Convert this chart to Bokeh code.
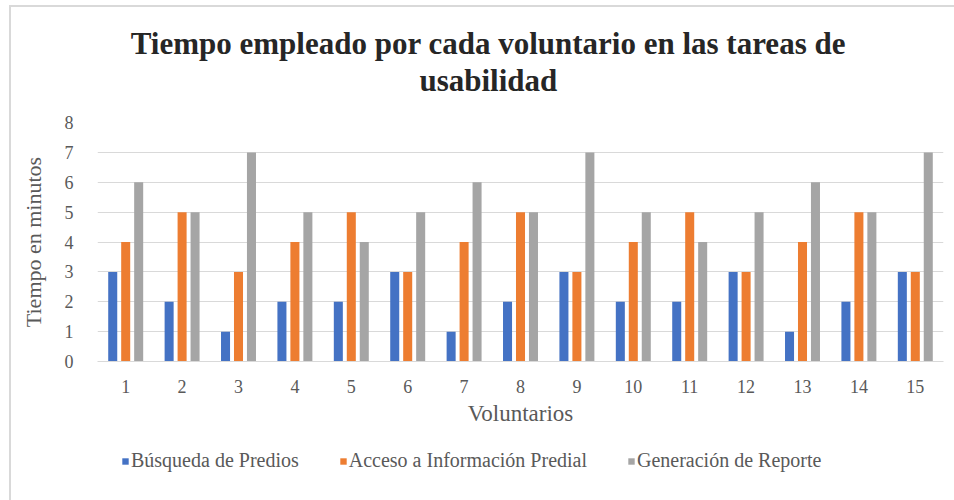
from bokeh.plotting import figure
from bokeh.layouts import column
from bokeh.models import ColumnDataSource, Legend, LegendItem, FixedTicker, Label, FactorRange
from bokeh.transform import dodge
from bokeh.embed import file_html
from bokeh.resources import INLINE

voluntarios = [str(i) for i in range(1, 16)]
busqueda = [3, 2, 1, 2, 2, 3, 1, 2, 3, 2, 2, 3, 1, 2, 3]
acceso = [4, 5, 3, 4, 5, 3, 4, 5, 3, 4, 5, 3, 4, 5, 3]
reporte = [6, 5, 7, 5, 4, 5, 6, 5, 7, 5, 4, 5, 6, 5, 7]
series_names = ["Búsqueda de Predios", "Acceso a Información Predial", "Generación de Reporte"]
title_lines = ["Tiempo empleado por cada voluntario en las tareas de", "usabilidad"]
y_ticks = [0, 1, 2, 3, 4, 5, 6, 7, 8]

colors = ["#4472C4", "#ED7D31", "#A5A5A5"]
FONT = "Liberation Serif"
TXT = "#595959"
W = 954

src = ColumnDataSource(dict(x=voluntarios, a=busqueda, b=acceso, c=reporte))
cols = ["a", "b", "c"]


def blank(height, xr, yr):
    f = figure(width=W, height=height, output_backend="svg", toolbar_location=None,
               x_axis_type=None, y_axis_type=None, min_border=0, x_range=xr, y_range=yr)
    f.outline_line_color = None
    f.grid.visible = False
    f.border_fill_color = None
    f.background_fill_color = None
    return f


# ---- title strip ----
tf = blank(100, (0, 1), (0, 100))
for txt, yy in zip(title_lines, [57, 20]):
    tf.add_layout(Label(x=0.462, y=yy, text=txt, text_align="center", text_baseline="middle",
                        text_font=FONT, text_font_size="31px", text_font_style="bold",
                        text_color="#262626"))

# ---- chart ----
p = figure(x_range=voluntarios, y_range=(0, 8), width=W, height=340,
           output_backend="svg", toolbar_location=None,
           min_border_left=97, min_border_right=11, min_border_top=22, min_border_bottom=79)
p.title.visible = False
p.border_fill_color = None
p.background_fill_color = None

for col, off, c in zip(cols, [-0.23, 0.0, 0.23], colors):
    p.vbar(x=dodge("x", off, range=p.x_range), top=col, width=0.16, source=src,
           fill_color=c, line_color=None)

p.outline_line_color = None
p.xgrid.grid_line_color = None
p.ygrid.grid_line_color = "#d9d9d9"
p.ygrid.grid_line_width = 1
p.yaxis.ticker = FixedTicker(ticks=y_ticks)

for ax in (p.xaxis[0], p.yaxis[0]):
    ax.major_tick_line_color = None
    ax.minor_tick_line_color = None
    ax.major_label_text_font = FONT
    ax.major_label_text_font_size = "18px"
    ax.major_label_text_color = TXT
    ax.axis_label_text_font = FONT
    ax.axis_label_text_font_style = "normal"
    ax.axis_label_text_color = TXT

p.xaxis.axis_label_text_font_size = "23px"
p.yaxis.axis_label_text_font_size = "22px"
p.yaxis.axis_line_color = None
p.xaxis.axis_line_color = "#d9d9d9"
p.yaxis.major_label_standoff = 18
p.xaxis.major_label_standoff = 12
p.xaxis.axis_label = "Voluntarios"
p.yaxis.axis_label = "Tiempo en minutos"
p.xaxis.axis_label_standoff = 5
p.yaxis.axis_label_standoff = 16

# ---- legend strip (zero-width bars, only the legend shows) ----
lg = blank(60, FactorRange(factors=voluntarios), (-2, -1))
rs = []
for col, c in zip(cols, colors):
    rs.append(lg.vbar(x="x", top=col, width=0, source=src, fill_color=c, line_color=None))

legend = Legend(items=[LegendItem(label=n, renderers=[r]) for n, r in zip(series_names, rs)],
                orientation="horizontal", location=(24, 28))
legend.label_text_font = FONT
legend.label_text_font_size = "20px"
legend.label_text_color = TXT
legend.glyph_width = 8
legend.glyph_height = 8
legend.label_standoff = 2
legend.spacing = 40
legend.border_line_color = None
legend.background_fill_alpha = 0
legend.margin = 0
legend.padding = 0
lg.add_layout(legend, "center")

layout = column(tf, p, lg, spacing=0)
layout.styles = {
    "background": "linear-gradient(#d9d9d9, #d9d9d9) 9px 5px / 2px 495px no-repeat, "
                  "linear-gradient(#d9d9d9, #d9d9d9) 9px 5px / 945px 2px no-repeat, #ffffff"
}

open("out.html", "w").write(file_html(layout, INLINE))
